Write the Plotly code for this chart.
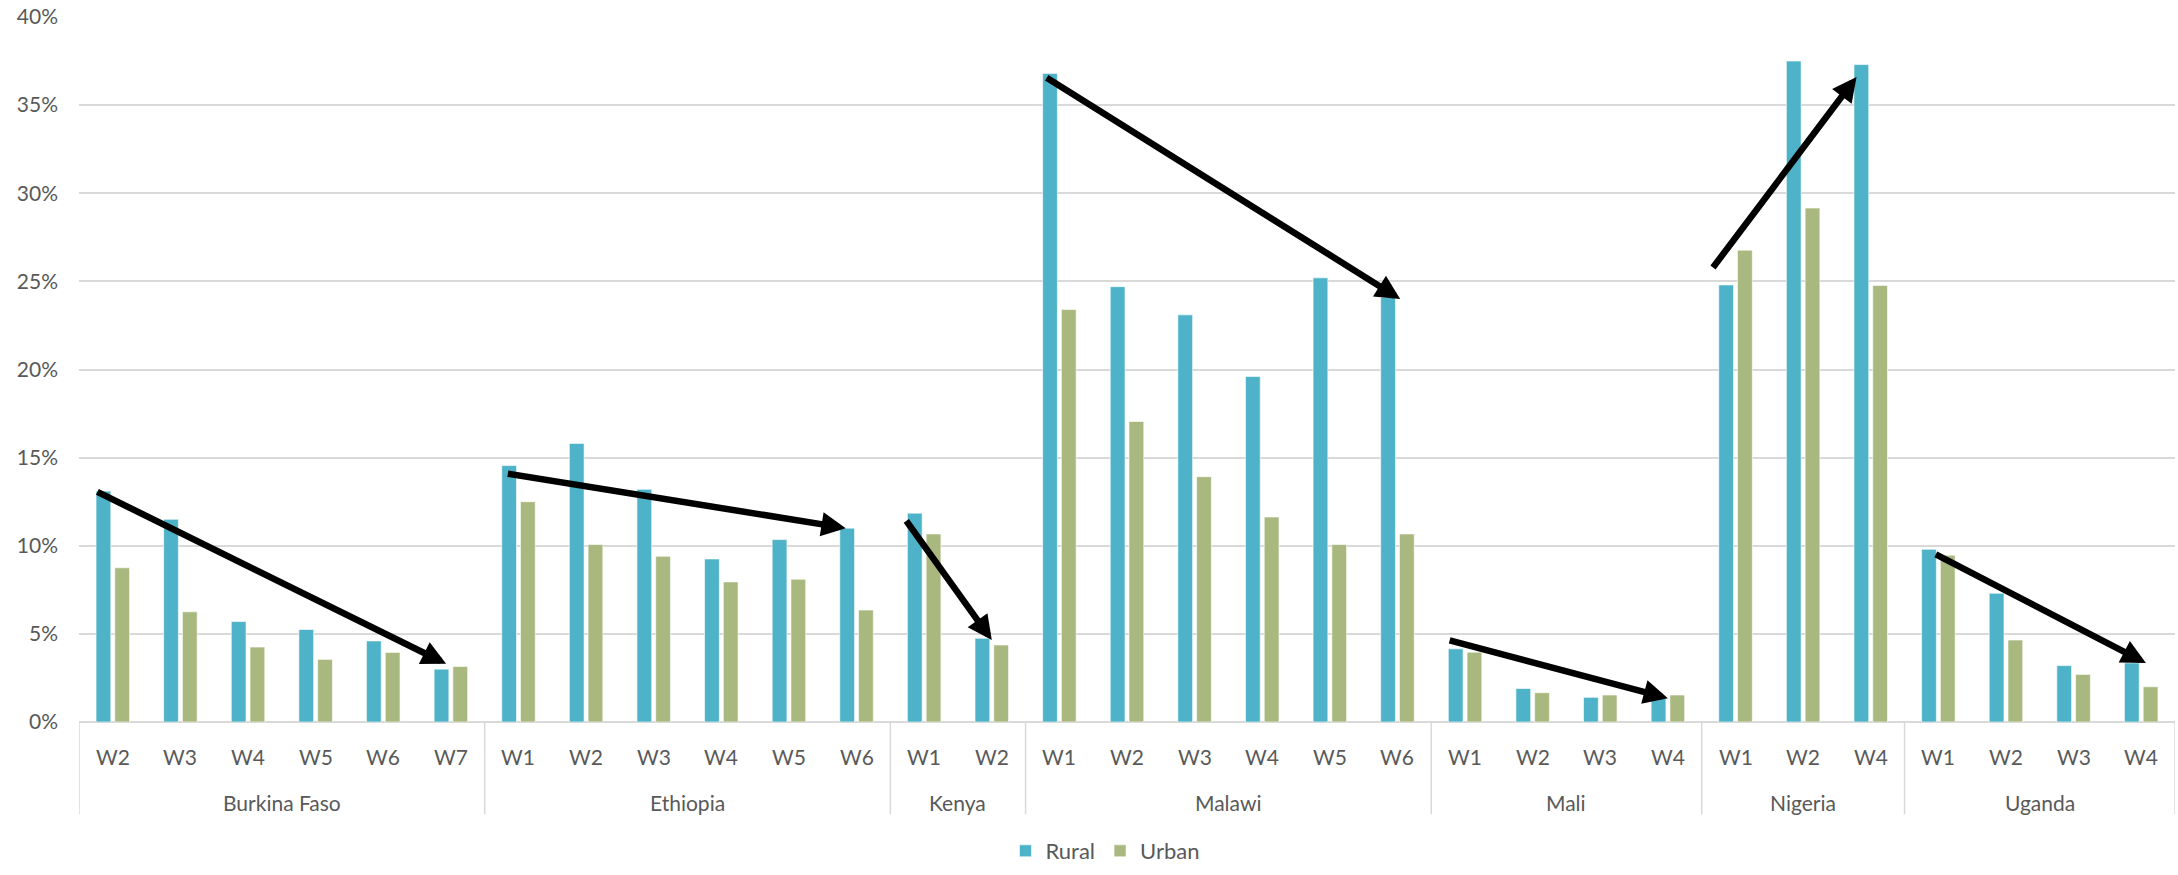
import plotly.graph_objects as go

# Share of households (%) by survey wave, rural vs urban
country = (["Burkina Faso"] * 6 + ["Ethiopia"] * 6 + ["Kenya"] * 2 +
           ["Malawi"] * 6 + ["Mali"] * 4 + ["Nigeria"] * 3 + ["Uganda"] * 4)
wave = (["W2", "W3", "W4", "W5", "W6", "W7"] +
        ["W1", "W2", "W3", "W4", "W5", "W6"] +
        ["W1", "W2"] +
        ["W1", "W2", "W3", "W4", "W5", "W6"] +
        ["W1", "W2", "W3", "W4"] +
        ["W1", "W2", "W4"] +
        ["W1", "W2", "W3", "W4"])
rural = [13.1, 11.5, 5.7, 5.25, 4.6, 3.0,
         14.55, 15.8, 13.2, 9.25, 10.35, 11.0,
         11.85, 4.75,
         36.8, 24.7, 23.1, 19.6, 25.2, 24.1,
         4.15, 1.9, 1.4, 1.35,
         24.8, 37.5, 37.3,
         9.8, 7.3, 3.2, 3.35]
urban = [8.75, 6.25, 4.25, 3.55, 3.95, 3.15,
         12.5, 10.07, 9.4, 7.95, 8.1, 6.35,
         10.67, 4.37,
         23.4, 17.05, 13.92, 11.63, 10.07, 10.67,
         3.96, 1.66, 1.53, 1.53,
         26.77, 29.16, 24.77,
         9.46, 4.65, 2.7, 2.0]

# Trend arrows along the rural series: (country, from wave, to wave)
trends = [("Burkina Faso", "W2", "W7"), ("Ethiopia", "W1", "W6"),
          ("Kenya", "W1", "W2"), ("Malawi", "W1", "W6"),
          ("Mali", "W1", "W4"), ("Nigeria", "W1", "W4"),
          ("Uganda", "W1", "W4")]
# Offsets of arrow ends from the bar tops: (tail dx, tail dy, head dx, head dy)
trend_nudge = {
    "Burkina Faso": (-0.25, 0.0, -0.07, 0.3),
    "Ethiopia": (-0.18, -0.45, -0.16, 0.0),
    "Kenya": (-0.28, -0.35, 0.0, -0.1),
    "Malawi": (-0.21, -0.2, 0.04, -0.1),
    "Mali": (-0.25, 0.5, 0.0, 0.0),
    "Nigeria": (-0.35, 0.9, -0.21, -0.7),
    "Uganda": (-0.06, -0.25, 0.07, 0.0),
}

RURAL_COLOR = "#4EB3C8"
URBAN_COLOR = "#A8B87E"
TEXT_COLOR = "#595959"
GRID_COLOR = "#D9D9D9"
FONT = "Lato"

pos = list(range(len(wave)))

fig = go.Figure()
fig.add_trace(go.Bar(x=pos, y=rural, name="Rural", marker_color=RURAL_COLOR,
                     marker_line=dict(color="rgba(255,255,255,0.6)", width=1)))
fig.add_trace(go.Bar(x=pos, y=urban, name="Urban", marker_color=URBAN_COLOR,
                     marker_line=dict(color="rgba(255,255,255,0.6)", width=1)))

annotations = []
shapes = []

# Wave labels under each slot
for i, w in enumerate(wave):
    annotations.append(dict(x=i, y=0, xref="x", yref="paper", text=w,
                            showarrow=False, yanchor="middle", yshift=-34,
                            font=dict(family=FONT, size=21, color=TEXT_COLOR)))

# Country labels and group dividers
groups = []
for i, c in enumerate(country):
    if not groups or groups[-1][0] != c:
        groups.append([c, i, i])
    else:
        groups[-1][2] = i
for c, a, b in groups:
    annotations.append(dict(x=(a + b) / 2, y=0, xref="x", yref="paper", text=c,
                            showarrow=False, yanchor="middle", yshift=-80,
                            font=dict(family=FONT, size=21, color=TEXT_COLOR)))
edges = [groups[0][1] - 0.5] + [b + 0.5 for _, _, b in groups]
for e in edges:
    shapes.append(dict(type="line", xref="x", yref="paper", x0=e, x1=e,
                       y0=0, y1=-0.131, line=dict(color=GRID_COLOR, width=1.5)))

# Trend arrows
def rural_at(c, w):
    for i, (cc, ww) in enumerate(zip(country, wave)):
        if cc == c and ww == w:
            return i, rural[i]
    raise KeyError((c, w))

for c, w0, w1 in trends:
    i0, v0 = rural_at(c, w0)
    i1, v1 = rural_at(c, w1)
    tdx, tdy, hdx, hdy = trend_nudge[c]
    annotations.append(dict(x=i1 + hdx, y=v1 + hdy, ax=i0 + tdx, ay=v0 + tdy,
                            xref="x", yref="y", axref="x", ayref="y",
                            showarrow=True, arrowhead=2, arrowsize=0.75,
                            arrowwidth=6.5, arrowcolor="black", standoff=0,
                            startstandoff=0, text=""))

fig.update_layout(
    width=2178, height=875,
    margin=dict(l=79, r=3, t=17, b=142),
    plot_bgcolor="white", paper_bgcolor="white",
    barmode="group", bargap=0.445, bargroupgap=0.213,
    font=dict(family=FONT, size=21, color=TEXT_COLOR),
    showlegend=True,
    legend=dict(orientation="h", x=0.4895, xanchor="center", y=-0.183,
                yanchor="middle", font=dict(family=FONT, size=22, color=TEXT_COLOR),
                itemwidth=30, traceorder="normal"),
    annotations=annotations, shapes=shapes,
)
fig.update_xaxes(range=[-0.5, len(wave) - 0.5], showticklabels=False,
                 showgrid=False, zeroline=False, showline=False)
fig.update_yaxes(range=[0, 40], dtick=5, ticksuffix="%", showgrid=True,
                 gridcolor=GRID_COLOR, gridwidth=1.5, zeroline=True,
                 zerolinecolor=GRID_COLOR, zerolinewidth=1.5, showline=False,
                 ticks="", ticklabelstandoff=20,
                 tickfont=dict(family=FONT, size=21, color=TEXT_COLOR))

fig.write_html("out.html")
